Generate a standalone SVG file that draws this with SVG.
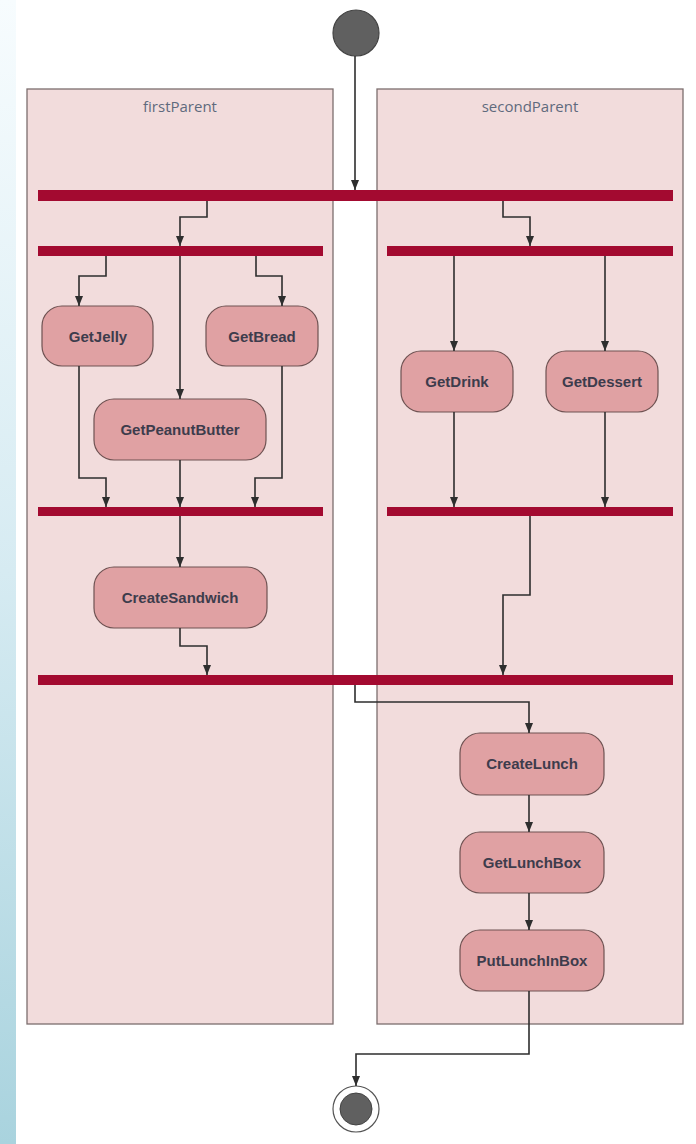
<svg xmlns="http://www.w3.org/2000/svg" width="696" height="1144" viewBox="0 0 696 1144">
<defs>
<linearGradient id="strip" x1="0" y1="0" x2="0" y2="1">
<stop offset="0" stop-color="#f7fcfe"/>
<stop offset="0.5" stop-color="#d6ebf2"/>
<stop offset="1" stop-color="#a9d3de"/>
</linearGradient>
<marker id="arr" markerUnits="userSpaceOnUse" markerWidth="10" markerHeight="10" viewBox="0 0 10 10" refX="10" refY="5" orient="auto">
<path d="M0,1 L10,5 L0,9 z" fill="#2e2e2e"/>
</marker>
</defs>
<style>
.lane{fill:#f2dcdc;stroke:#7c6e6e;stroke-width:1.3}
.lanelabel{font-family:"Open Sans","Liberation Sans",sans-serif;font-size:15px;fill:#5f6a7d;text-anchor:middle}
.bar{fill:#a30a30}
.act{fill:#e0a1a3;stroke:#6e5252;stroke-width:1.2}
.acttext{font-family:"Liberation Sans",Arial,sans-serif;font-weight:bold;font-size:15px;fill:#3d3c4c;text-anchor:middle}
.conn{fill:none;stroke:#2e2e2e;stroke-width:1.6;marker-end:url(#arr)}
.initial{fill:#606060;stroke:#444;stroke-width:1.2}
</style>
<rect x="0" y="0" width="696" height="1144" fill="#ffffff"/>
<rect x="0" y="0" width="16" height="1144" fill="url(#strip)"/>

<g id="lane-firstParent">
<rect class="lane" x="27" y="89" width="306" height="935"/>
<text class="lanelabel" x="180" y="112">firstParent</text>
</g>
<g id="lane-secondParent">
<rect class="lane" x="377" y="89" width="306" height="935"/>
<text class="lanelabel" x="530" y="112">secondParent</text>
</g>

<g id="start"><circle class="initial" cx="356" cy="33" r="23"/></g>

<g id="fork1"><rect class="bar" x="38" y="190" width="635" height="11"/></g>
<g id="fork2left"><rect class="bar" x="38" y="246" width="285" height="10"/></g>
<g id="fork2right"><rect class="bar" x="387" y="246" width="286" height="10"/></g>
<g id="join1left"><rect class="bar" x="38" y="507" width="285" height="9"/></g>
<g id="join1right"><rect class="bar" x="387" y="507" width="286" height="9"/></g>
<g id="join2"><rect class="bar" x="38" y="675" width="635" height="10"/></g>

<g id="GetJelly"><rect class="act" x="42" y="306" width="111" height="60" rx="20"/><text class="acttext" x="98" y="342">GetJelly</text></g>
<g id="GetBread"><rect class="act" x="206" y="306" width="112" height="60" rx="20"/><text class="acttext" x="262" y="342">GetBread</text></g>
<g id="GetPeanutButter"><rect class="act" x="94" y="399" width="172" height="61" rx="20"/><text class="acttext" x="180" y="435">GetPeanutButter</text></g>
<g id="CreateSandwich"><rect class="act" x="94" y="567" width="173" height="61" rx="20"/><text class="acttext" x="180" y="603">CreateSandwich</text></g>
<g id="GetDrink"><rect class="act" x="401" y="351" width="112" height="61" rx="20"/><text class="acttext" x="457" y="387">GetDrink</text></g>
<g id="GetDessert"><rect class="act" x="546" y="351" width="112" height="61" rx="20"/><text class="acttext" x="602" y="387">GetDessert</text></g>
<g id="CreateLunch"><rect class="act" x="460" y="733" width="144" height="62" rx="20"/><text class="acttext" x="532" y="769">CreateLunch</text></g>
<g id="GetLunchBox"><rect class="act" x="460" y="832" width="144" height="61" rx="20"/><text class="acttext" x="532" y="868">GetLunchBox</text></g>
<g id="PutLunchInBox"><rect class="act" x="460" y="930" width="144" height="61" rx="20"/><text class="acttext" x="532" y="966">PutLunchInBox</text></g>

<g id="end">
<circle cx="356" cy="1109" r="23" fill="#ffffff" stroke="#555" stroke-width="1.2"/>
<circle cx="356" cy="1109" r="16" fill="#606060" stroke="#444" stroke-width="1"/>
</g>

<g id="connectors">
<path class="conn" d="M355,56 V190"/>
<path class="conn" d="M207,201 V217 H180 V246"/>
<path class="conn" d="M503,201 V217 H530 V246"/>
<path class="conn" d="M106,256 V276 H79 V306"/>
<path class="conn" d="M180,256 V399"/>
<path class="conn" d="M256,256 V276 H282 V306"/>
<path class="conn" d="M79,366 V478 H106 V507"/>
<path class="conn" d="M180,460 V507"/>
<path class="conn" d="M282,366 V478 H255 V507"/>
<path class="conn" d="M454,256 V351"/>
<path class="conn" d="M605,256 V351"/>
<path class="conn" d="M454,412 V507"/>
<path class="conn" d="M605,412 V507"/>
<path class="conn" d="M180,516 V567"/>
<path class="conn" d="M180,628 V646 H207 V675"/>
<path class="conn" d="M530,516 V595 H503 V675"/>
<path class="conn" d="M355,685 V702 H529 V733"/>
<path class="conn" d="M529,795 V832"/>
<path class="conn" d="M529,893 V930"/>
<path class="conn" d="M529,991 V1054 H356 V1086"/>
</g>
</svg>
